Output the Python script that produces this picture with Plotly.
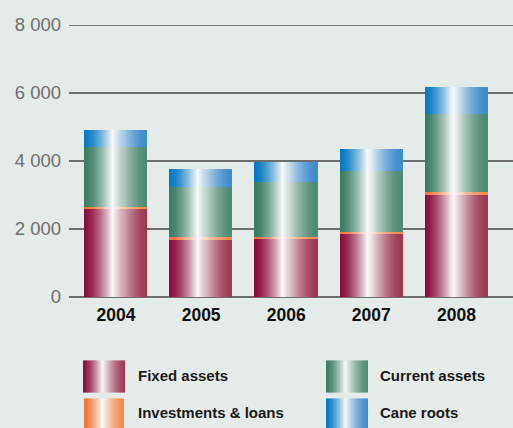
import plotly.graph_objects as go

# Balance sheet composition, Rand million
years = ["2004", "2005", "2006", "2007", "2008"]
fixed_assets = [2575, 1680, 1710, 1855, 3005]
investments_loans = [70, 75, 50, 60, 80]
current_assets = [1770, 1475, 1630, 1790, 2310]
cane_roots = [500, 530, 580, 650, 785]
y_ticks = [0, 2000, 4000, 6000, 8000]

# name, values, left-edge colour, right-edge colour
series = [
    ("Fixed assets", fixed_assets, "#8a0c3c", "#9c3a55"),
    ("Investments & loans", investments_loans, "#ee7434", "#f08a4c"),
    ("Current assets", current_assets, "#387c62", "#4f8a73"),
    ("Cane roots", cane_roots, "#0579c2", "#3f8bcb"),
]

W, H = 513, 428
L, R, T, B = 69, 0, 25.3, 131.3
BG = "#e5ebe8"
BAR_W = 0.728      # bar width in category units
N = 60             # vertical slices used to build the cylinder shading
PEAK = 0.46        # position of the highlight across the bar


def hex2rgb(h):
    h = h.lstrip("#")
    return tuple(int(h[i:i + 2], 16) for i in (0, 2, 4))


def shade(left, right, t):
    """Colour at fraction t across a bar: dark edges, white highlight."""
    if t <= PEAK:
        s, edge = t / PEAK, hex2rgb(left)
    else:
        s, edge = (1 - t) / (1 - PEAK), hex2rgb(right)
    w = s ** 1.5
    white = (250, 250, 250)
    c = [round(e * (1 - w) + wv * w) for e, wv in zip(edge, white)]
    return "rgb(%d,%d,%d)" % tuple(c)


fig = go.Figure()

step = BAR_W / N
slice_pos = [(k + 0.5) / N for k in range(N)]
for name, vals, c_left, c_right in series:
    xs, ys, cols = [], [], []
    for i, v in enumerate(vals):
        for t in slice_pos:
            xs.append(i - BAR_W / 2 + t * BAR_W)
            ys.append(v)
            cols.append(shade(c_left, c_right, t))
    fig.add_trace(go.Bar(
        x=xs, y=ys, name=name, width=step * 1.6,
        marker=dict(color=cols, line=dict(width=0)),
        showlegend=False, hoverinfo="skip",
    ))

# top rule at 8 000
fig.add_shape(type="line", xref="paper", yref="y", x0=0, x1=1,
              y0=y_ticks[-1], y1=y_ticks[-1],
              line=dict(color="#111111", width=1.2), layer="above")

# legend: shaded swatches plus labels, positioned in pixels
plot_w = W - L - R
plot_h = H - T - B


def px(x):
    return (x - L) / plot_w


def py(y):
    return (H - B - y) / plot_h


legend_items = [
    (series[0], 83, 125, 360, 392, 136, 375),
    (series[1], 84, 124, 398, 430, 136, 412),
    (series[2], 326, 368, 360, 392, 378, 375),
    (series[3], 326, 368, 398, 430, 378, 412),
]
M = 30
for (name, _, c_left, c_right), x0, x1, y0, y1, tx, ty in legend_items:
    sw = (x1 - x0) / M
    for k in range(M):
        t = (k + 0.5) / M
        col = shade(c_left, c_right, t)
        fig.add_shape(type="rect", xref="paper", yref="paper",
                      x0=px(x0 + k * sw),
                      x1=px(x0 + (k + 1.4) * sw if k < M - 1 else x1),
                      y0=py(y1), y1=py(y0),
                      fillcolor=col, line=dict(width=0), layer="above")
    fig.add_annotation(text=name, xref="paper", yref="paper",
                       x=px(tx), y=py(ty), xanchor="left", yanchor="middle",
                       showarrow=False,
                       font=dict(family="Liberation Sans, Arial, sans-serif",
                                 size=15, color="#1a1a1a", weight="bold"))

fig.update_layout(
    width=W, height=H, autosize=False,
    margin=dict(l=L, r=R, t=T, b=B, pad=0),
    paper_bgcolor=BG, plot_bgcolor=BG,
    barmode="stack", bargap=0,
    separators=". ",
    font=dict(family="Liberation Sans, Arial, sans-serif"),
    xaxis=dict(
        range=[-0.553, 4.665], tickvals=list(range(len(years))), ticktext=years,
        showgrid=False, zeroline=False, showline=False, ticks="",
        tickfont=dict(size=17.5, color="#111111", weight="bold"),
        ticklabelstandoff=5, fixedrange=True,
    ),
    yaxis=dict(
        range=[0, 8000], tickvals=y_ticks, tickformat=",d",
        showgrid=True, gridcolor="#6d6d6d", gridwidth=1.6,
        zeroline=True, zerolinecolor="#6d6d6d", zerolinewidth=1.6,
        showline=False, ticks="",
        tickfont=dict(size=18.5, color="#6e6e6e"),
        ticklabelstandoff=7, fixedrange=True,
    ),
)

fig.write_html("out.html", config={"displayModeBar": False})
